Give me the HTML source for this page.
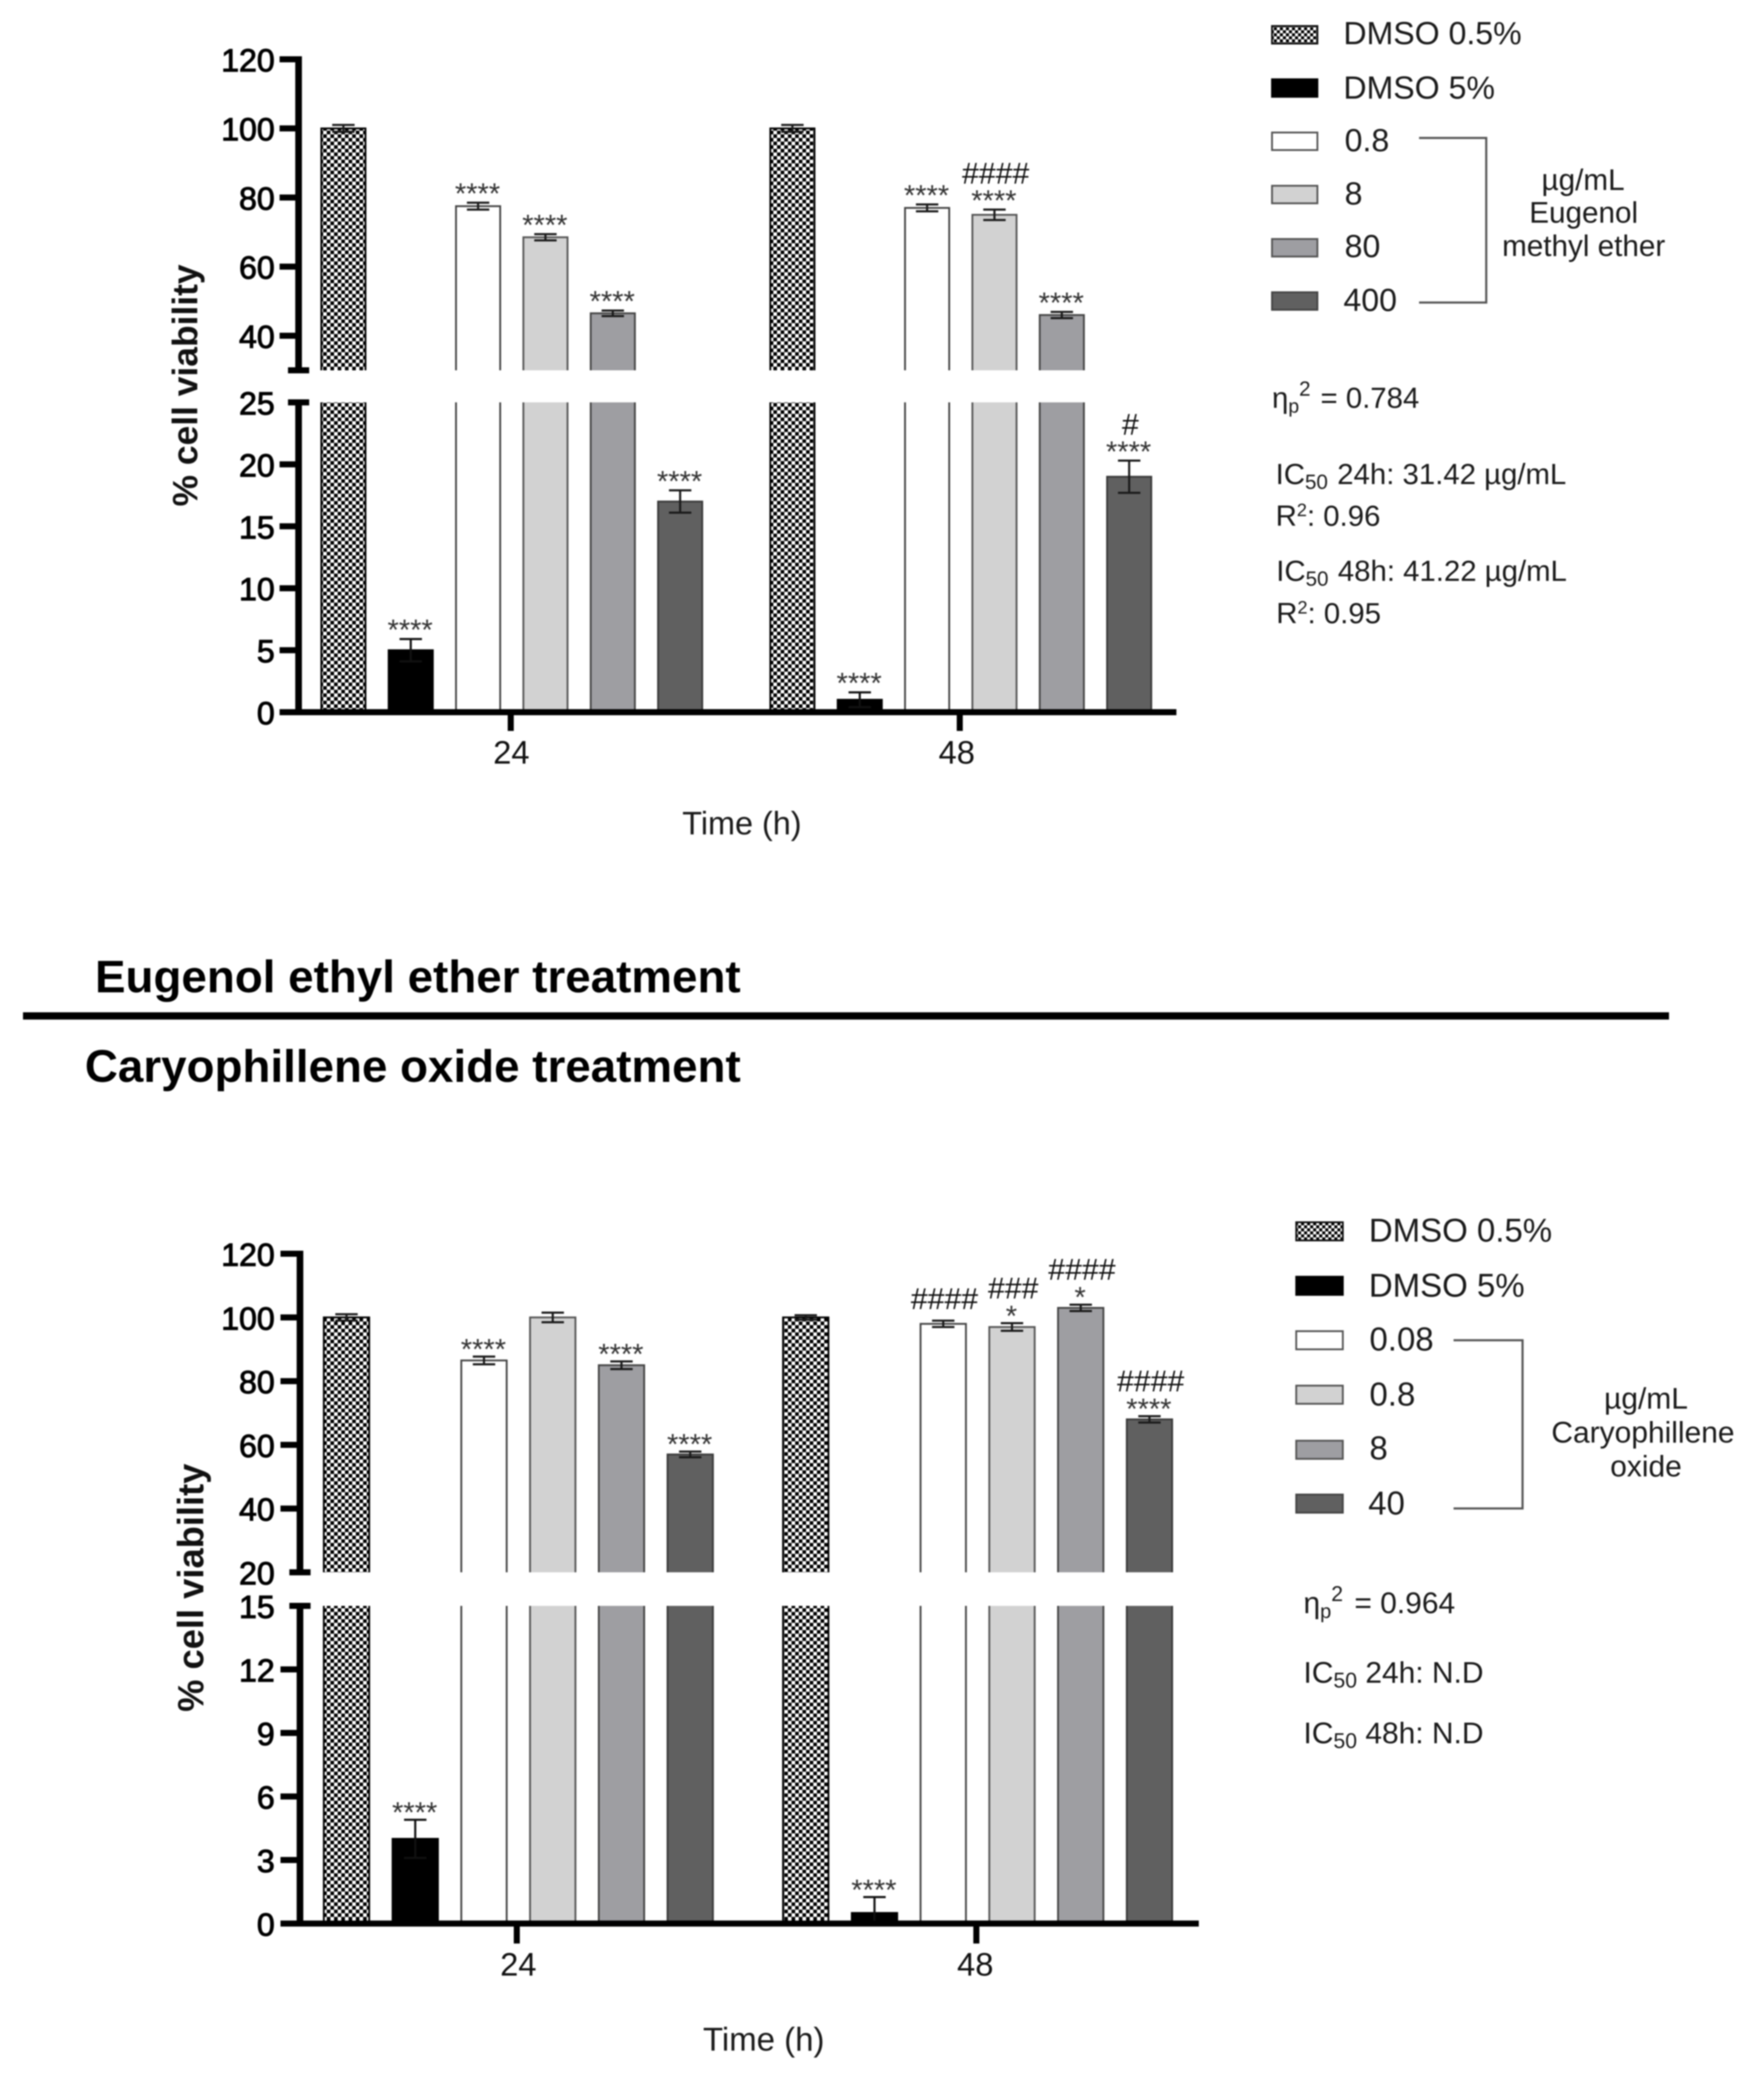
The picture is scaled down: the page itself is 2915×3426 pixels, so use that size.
<!DOCTYPE html>
<html lang="en">
<head>
<meta charset="utf-8">
<title>Cell viability charts</title>
<style>
html,body{margin:0;padding:0;background:#fff;width:2915px;height:3426px;overflow:hidden}
svg{display:block;filter:blur(1px)}
text{font-family:"Liberation Sans",Arial,sans-serif;fill:#1a1a1a}
.legend{font-size:53px}
.legend2{font-size:54.5px}
.stat{font-size:48.5px}
.stat2{font-size:49.5px}
.title{font-size:75.6px;font-weight:bold;fill:#000}
.ytitle{font-weight:bold;fill:#111}
.ticklabel{font-size:53px;fill:#000;stroke:#000;stroke-width:1.5px;text-anchor:end}
.xlabel{font-size:54px;text-anchor:middle;fill:#111}
.xtitle{text-anchor:middle}
.star{font-size:48px;text-anchor:middle;fill:#333}
.hash{font-size:50px;text-anchor:middle;fill:#111}
</style>
</head>
<body>
<svg id="figure" xmlns="http://www.w3.org/2000/svg" width="2915" height="3426" viewBox="0 0 2915 3426">
<defs>
<pattern id="checker" patternUnits="userSpaceOnUse" width="12" height="12">
<rect width="12" height="12" fill="#fff"/>
<rect x="0" y="0" width="6" height="6" fill="#000"/>
<rect x="6" y="6" width="6" height="6" fill="#000"/>
</pattern>
<pattern id="checker-small" patternUnits="userSpaceOnUse" width="10" height="10">
<rect width="10" height="10" fill="#fff"/>
<rect x="0" y="0" width="5" height="5" fill="#000"/>
<rect x="5" y="5" width="5" height="5" fill="#000"/>
</pattern>
</defs>
<rect width="2915" height="3426" fill="#fff"/>

<g id="chart-top"></g>
<g id="chart-bottom"></g>

<text class="title" x="157" y="1640">Eugenol ethyl ether treatment</text>
<rect x="38" y="1673" width="2720" height="12" fill="#000"/>
<text class="title" x="1224" y="1788" text-anchor="end">Caryophillene oxide treatment</text>

<g>
<g><rect x="2102" y="43" width="75" height="29" fill="url(#checker-small)" stroke="#111" stroke-width="3"/><text class="legend" x="2220" y="73">DMSO 0.5%</text></g>
<g><rect x="2102" y="131" width="75" height="29" fill="#000" stroke="#000" stroke-width="3"/><text class="legend" x="2220" y="163">DMSO 5%</text></g>
<g><rect x="2102" y="219" width="75" height="29" fill="#fff" stroke="#555" stroke-width="3"/><text class="legend" x="2222" y="250">0.8</text></g>
<g><rect x="2102" y="307" width="75" height="29" fill="#d2d2d2" stroke="#555" stroke-width="3"/><text class="legend" x="2222" y="338">8</text></g>
<g><rect x="2102" y="395" width="75" height="29" fill="#9e9ea2" stroke="#555" stroke-width="3"/><text class="legend" x="2222" y="425">80</text></g>
<g><rect x="2102" y="483" width="75" height="29" fill="#606060" stroke="#444" stroke-width="3"/><text class="legend" x="2220" y="514">400</text></g>
<path d="M2345 228H2456V500H2345" fill="none" stroke="#555" stroke-width="3.5"/>
<g text-anchor="middle">
<text x="2616" y="314" font-size="49">µg/mL</text>
<text x="2617" y="368" font-size="49">Eugenol</text>
<text x="2617" y="423" font-size="49">methyl ether</text>
</g>
</g>

<g>
<text class="stat" x="2102" y="674">η<tspan dy="8" font-size="32">p</tspan><tspan dy="-28" font-size="34">2</tspan><tspan dy="20" dx="3"> = 0.784</tspan></text>
<text class="stat" x="2108" y="800">IC<tspan dy="8" font-size="34">50</tspan><tspan dy="-8" dx="2"> 24h: 31.42 µg/mL</tspan></text>
<text class="stat" x="2108" y="869">R<tspan dy="-16" font-size="30">2</tspan><tspan dy="16">: 0.96</tspan></text>
<text class="stat" x="2109" y="960">IC<tspan dy="8" font-size="34">50</tspan><tspan dy="-8" dx="2"> 48h: 41.22 µg/mL</tspan></text>
<text class="stat" x="2109" y="1030">R<tspan dy="-16" font-size="30">2</tspan><tspan dy="16">: 0.95</tspan></text>
</g>

<g>
<g><rect x="2142" y="2020" width="77" height="30" fill="url(#checker-small)" stroke="#111" stroke-width="3"/><text class="legend2" x="2262" y="2052">DMSO 0.5%</text></g>
<g><rect x="2142" y="2110" width="77" height="30" fill="#000" stroke="#000" stroke-width="3"/><text class="legend2" x="2262" y="2143">DMSO 5%</text></g>
<g><rect x="2142" y="2200" width="77" height="30" fill="#fff" stroke="#555" stroke-width="3"/><text class="legend2" x="2263" y="2232">0.08</text></g>
<g><rect x="2142" y="2290" width="77" height="30" fill="#d2d2d2" stroke="#555" stroke-width="3"/><text class="legend2" x="2263" y="2323">0.8</text></g>
<g><rect x="2142" y="2381" width="77" height="30" fill="#9e9ea2" stroke="#555" stroke-width="3"/><text class="legend2" x="2263" y="2412">8</text></g>
<g><rect x="2142" y="2470" width="77" height="30" fill="#606060" stroke="#444" stroke-width="3"/><text class="legend2" x="2261" y="2503">40</text></g>
<path d="M2402 2215H2516V2493H2402" fill="none" stroke="#555" stroke-width="3.5"/>
<g text-anchor="middle">
<text x="2720" y="2328" font-size="49.5">µg/mL</text>
<text x="2715" y="2384" font-size="49.5">Caryophillene</text>
<text x="2720" y="2440" font-size="49.5">oxide</text>
</g>
</g>

<g>
<text class="stat2" x="2154" y="2666">η<tspan dy="8" font-size="33">p</tspan><tspan dy="-28" font-size="35">2</tspan><tspan dy="20" dx="5"> = 0.964</tspan></text>
<text class="stat2" x="2154" y="2781">IC<tspan dy="8" font-size="35">50</tspan><tspan dy="-8"> 24h: N.D</tspan></text>
<text class="stat2" x="2154" y="2881">IC<tspan dy="8" font-size="35">50</tspan><tspan dy="-8"> 48h: N.D</tspan></text>
</g>
</svg>

<script>
// ---- shared data ----
const timeCategories = ['24', '48'];

// Eugenol methyl ether chart
const emeSeries = ['DMSO 0.5%', 'DMSO 5%', '0.8', '8', '80', '400'];
const emeValues24 = [100, 5, 77.5, 68.5, 46.5, 17];
const emeValues48 = [100, 1, 77, 75, 46, 19];
const emeErrors24 = [1, 0.9, 1, 0.9, 0.8, 0.9];
const emeErrors48 = [1, 0.6, 1, 1.5, 0.9, 1.3];
const emeStars24 = [0, 4, 4, 4, 4, 4];
const emeStars48 = [0, 4, 4, 4, 4, 4];
const emeHashes24 = [0, 0, 0, 0, 0, 0];
const emeHashes48 = [0, 0, 0, 4, 0, 1];
const emeTicksUpper = [40, 60, 80, 100, 120];
const emeTicksLower = [0, 5, 10, 15, 20, 25];

// Caryophillene oxide chart
const coSeries = ['DMSO 0.5%', 'DMSO 5%', '0.08', '0.8', '8', '40'];
const coValues24 = [100, 4, 86.5, 100, 85, 57];
const coValues48 = [100, 0.5, 98, 97, 103, 68];
const coErrors24 = [1, 0.9, 1.2, 1.5, 1.2, 0.9];
const coErrors48 = [0.7, 0.75, 1, 1.2, 1, 1];
const coStars24 = [0, 4, 4, 0, 4, 4];
const coStars48 = [0, 4, 0, 1, 1, 4];
const coHashes24 = [0, 0, 0, 0, 0, 0];
const coHashes48 = [0, 0, 4, 3, 4, 4];
const coTicksUpper = [20, 40, 60, 80, 100, 120];
const coTicksLower = [0, 3, 6, 9, 12, 15];

const fills = ['url(#checker)', '#000', '#fff', '#d2d2d2', '#9e9ea2', '#606060'];
const edges = ['#000', '#000', '#444', '#555', '#444', '#3a3a3a'];

const NS = 'http://www.w3.org/2000/svg';
function mk(tag, attrs, parent, txt) {
  const el = document.createElementNS(NS, tag);
  for (const k in attrs) el.setAttribute(k, attrs[k]);
  if (txt !== undefined) el.textContent = txt;
  parent.appendChild(el);
  return el;
}

function drawChart(root, d, L) {
  // piecewise y axis functions
  function y(v) {
    if (v <= L.lowMax) return L.y0 - (v / L.lowMax) * (L.y0 - L.yLowTop);
    if (v < L.upMin) return L.yLowTop;
    return L.yUpBottom - ((v - L.upMin) / (L.upMax - L.upMin)) * (L.yUpBottom - L.yUpTop);
  }
  function x(groupIndex, seriesIndex) {
    return L.groupCenters[groupIndex] + (seriesIndex - 2.5) * L.step;
  }

  // bars, error bars, annotations
  d.groups.forEach(function (g, gi) {
    g.values.forEach(function (v, si) {
      const cx = x(gi, si);
      const left = cx - L.barW / 2;
      const right = cx + L.barW / 2;
      const top = y(v);
      const groupEl = mk('g', {}, root);
      
      

      let outline;
      if (v > L.lowMax) {
        mk('rect', { x: left, y: L.yLowTop, width: L.barW, height: L.y0 - L.yLowTop, fill: fills[si] }, groupEl);
        mk('rect', { x: left, y: top, width: L.barW, height: L.yUpBottom - top, fill: fills[si] }, groupEl);
        outline = 'M' + left + ' ' + L.y0 + 'V' + L.yLowTop + 'M' + right + ' ' + L.y0 + 'V' + L.yLowTop +
          'M' + left + ' ' + L.yUpBottom + 'V' + top + 'H' + right + 'V' + L.yUpBottom;
      } else {
        mk('rect', { x: left, y: top, width: L.barW, height: L.y0 - top, fill: fills[si] }, groupEl);
        outline = 'M' + left + ' ' + L.y0 + 'V' + top + 'H' + right + 'V' + L.y0;
      }
      mk('path', { d: outline, fill: 'none', stroke: edges[si], 'stroke-width': 3 }, groupEl);

      // error bar
      const e = g.errors[si];
      const yHi = y(v + e);
      const yLo = y(Math.max(0, v - e));
      const errColor = si === 1 ? '#111' : '#1a1a1a';
      const errPath = 'M' + cx + ' ' + yHi + 'V' + yLo +
        'M' + (cx - 18.5) + ' ' + yHi + 'H' + (cx + 18.5) +
        'M' + (cx - 18.5) + ' ' + yLo + 'H' + (cx + 18.5);
      const errEl = mk('path', { d: errPath, fill: 'none', stroke: errColor, 'stroke-width': 3.5 }, groupEl);
      
      

      // significance marks
      const starBase = yHi + L.starOffset;
      const stars = g.stars[si];
      const hashes = g.hashes[si];
      if (stars > 0) {
        const s = mk('text', { class: 'star', x: cx - 1, y: starBase }, groupEl, '*'.repeat(stars));
        
        
      }
      if (hashes > 0) {
        const hashBase = stars > 0 ? starBase - L.hashGap : yHi - 19;
        const h = mk('text', { class: 'hash', x: cx + 2, y: hashBase }, groupEl, '#'.repeat(hashes));
        
        
      }
    });
  });

  // axes
  const axes = mk('g', {}, root);
  
  

  const axUp = mk('rect', { x: L.axisX - 5.5, y: L.yUpTop - 5, width: 11, height: L.yUpBottom - L.yUpTop + 5, fill: '#000' }, axes);
  
  
  const axLow = mk('rect', { x: L.axisX - 5.5, y: L.yLowTop, width: 11, height: L.y0 - L.yLowTop, fill: '#000' }, axes);
  
  
  const xAx = mk('rect', { x: L.tickLeft, y: y(0) - 5, width: L.xEnd - L.tickLeft, height: 10, fill: '#000' }, axes);
  
  

  // segment end caps at the break
  mk('rect', { x: L.axisX - 17.5, y: L.yUpBottom - 5, width: 35, height: 10, fill: '#000' }, axes);
  mk('rect', { x: L.axisX - 17.5, y: L.yLowTop - 5, width: 35, height: 10, fill: '#000' }, axes);

  function yTick(v, withMark) {
    const py = y(v);
    if (withMark) {
      const t = mk('rect', { x: L.tickLeft, y: py - 5, width: L.axisX - L.tickLeft, height: 10, fill: '#000' }, axes);
      
      
    }
    const lab = mk('text', { class: 'ticklabel', x: L.labelRight, y: py + 20 }, axes, String(v));
    
    
  }
  d.ticksUpper.forEach(function (v) { yTick(v, v !== L.upMin); });
  d.ticksLower.forEach(function (v) { yTick(v, v !== L.lowMax); });

  d.categories.forEach(function (c, i) {
    const tx = L.tickXs[i];
    const t = mk('rect', { x: tx - 5, y: L.y0, width: 10, height: L.xTickLen, fill: '#000' }, axes);
    
    
    const lab = mk('text', { class: 'xlabel', x: L.xLabelXs[i], y: L.xLabelY }, axes, c);
    
    
  });

  const xt = mk('text', { class: 'xtitle', 'font-size': L.xTitleSize, x: L.xTitleX, y: L.xTitleY }, axes, 'Time (h)');
  
  

  const yt = mk('text', { class: 'ytitle', 'font-size': L.yTitleSize, 'text-anchor': 'middle', transform: 'translate(' + L.yTitleX + ' ' + L.yTitleY + ') rotate(-90)' }, axes, '% cell viability');
  
  
}

drawChart(document.getElementById('chart-top'), {
  categories: timeCategories,
  series: emeSeries,
  groups: [
    { values: emeValues24, errors: emeErrors24, stars: emeStars24, hashes: emeHashes24 },
    { values: emeValues48, errors: emeErrors48, stars: emeStars48, hashes: emeHashes48 }
  ],
  ticksUpper: emeTicksUpper,
  ticksLower: emeTicksLower
}, {
  y0: 1177, yLowTop: 665, lowMax: 25,
  yUpBottom: 612, yUpTop: 98, upMin: 30, upMax: 120,
  groupCenters: [845.7, 1587.7], step: 111.3, barW: 73,
  axisX: 493.4, tickLeft: 462, labelRight: 454, xEnd: 1944,
  tickXs: [844, 1586], xTickLen: 31, xLabelXs: [845, 1581], xLabelY: 1262,
  xTitleX: 1226, xTitleY: 1379, xTitleSize: 53.5,
  yTitleX: 326, yTitleY: 637, yTitleSize: 58.5,
  starOffset: 1, hashGap: 44
});

drawChart(document.getElementById('chart-bottom'), {
  categories: timeCategories,
  series: coSeries,
  groups: [
    { values: coValues24, errors: coErrors24, stars: coStars24, hashes: coHashes24 },
    { values: coValues48, errors: coErrors48, stars: coStars48, hashes: coHashes48 }
  ],
  ticksUpper: coTicksUpper,
  ticksLower: coTicksLower
}, {
  y0: 3179, yLowTop: 2654, lowMax: 15,
  yUpBottom: 2598.5, yUpTop: 2072, upMin: 20, upMax: 120,
  groupCenters: [856.6, 1615.5], step: 113.6, barW: 75,
  axisX: 495.7, tickLeft: 463.5, labelRight: 454, xEnd: 1981,
  tickXs: [854, 1613.4], xTickLen: 33, xLabelXs: [856.5, 1611.6], xLabelY: 3265,
  xTitleX: 1262, xTitleY: 3389, xTitleSize: 54.5,
  yTitleX: 336, yTitleY: 2624, yTitleSize: 60,
  starOffset: 4, hashGap: 45
});
</script>
</body>
</html>
